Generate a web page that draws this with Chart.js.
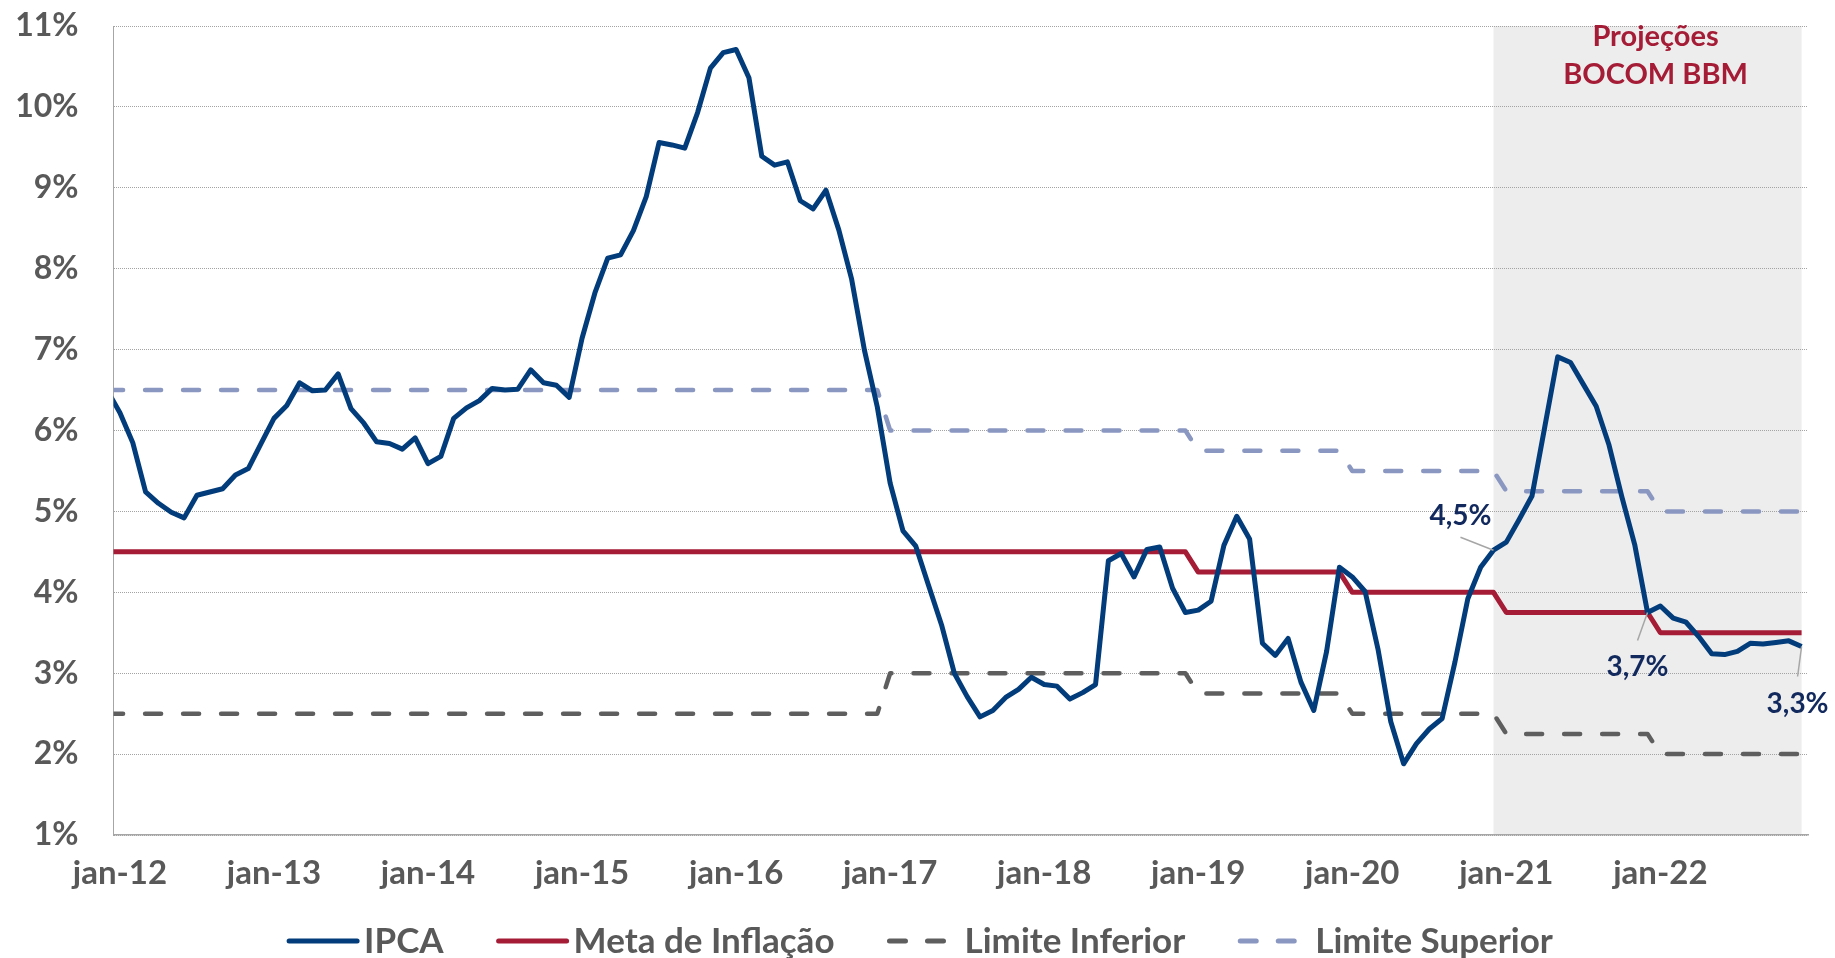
<!DOCTYPE html>
<html>
<head>
<meta charset="utf-8">
<script src="https://cdn.jsdelivr.net/npm/chart.js@4.4.1/dist/chart.umd.min.js"></script>
<style>
  html, body { margin: 0; padding: 0; background: #ffffff; }
  #wrap { width: 1835px; height: 958px; position: relative; }
  canvas { display: block; }
</style>
</head>
<body>
<div id="wrap"><canvas id="c" width="1835" height="958"></canvas></div>
<script>
// ---------------- DATA ----------------
const categories = [
  'dez-11',
  'jan-12','fev-12','mar-12','abr-12','mai-12','jun-12','jul-12','ago-12','set-12','out-12','nov-12','dez-12',
  'jan-13','fev-13','mar-13','abr-13','mai-13','jun-13','jul-13','ago-13','set-13','out-13','nov-13','dez-13',
  'jan-14','fev-14','mar-14','abr-14','mai-14','jun-14','jul-14','ago-14','set-14','out-14','nov-14','dez-14',
  'jan-15','fev-15','mar-15','abr-15','mai-15','jun-15','jul-15','ago-15','set-15','out-15','nov-15','dez-15',
  'jan-16','fev-16','mar-16','abr-16','mai-16','jun-16','jul-16','ago-16','set-16','out-16','nov-16','dez-16',
  'jan-17','fev-17','mar-17','abr-17','mai-17','jun-17','jul-17','ago-17','set-17','out-17','nov-17','dez-17',
  'jan-18','fev-18','mar-18','abr-18','mai-18','jun-18','jul-18','ago-18','set-18','out-18','nov-18','dez-18',
  'jan-19','fev-19','mar-19','abr-19','mai-19','jun-19','jul-19','ago-19','set-19','out-19','nov-19','dez-19',
  'jan-20','fev-20','mar-20','abr-20','mai-20','jun-20','jul-20','ago-20','set-20','out-20','nov-20','dez-20',
  'jan-21','fev-21','mar-21','abr-21','mai-21','jun-21','jul-21','ago-21','set-21','out-21','nov-21','dez-21',
  'jan-22','fev-22','mar-22','abr-22','mai-22','jun-22','jul-22','ago-22','set-22','out-22','nov-22','dez-22'
];

const ipca = [
  6.50,
  6.22, 5.85, 5.24, 5.10, 4.99, 4.92, 5.20, 5.24, 5.28, 5.45, 5.53, 5.84,
  6.15, 6.31, 6.59, 6.49, 6.50, 6.70, 6.27, 6.09, 5.86, 5.84, 5.77, 5.91,
  5.59, 5.68, 6.15, 6.28, 6.37, 6.52, 6.50, 6.51, 6.75, 6.59, 6.56, 6.41,
  7.14, 7.70, 8.13, 8.17, 8.47, 8.89, 9.56, 9.53, 9.49, 9.93, 10.48, 10.67,
  10.71, 10.36, 9.39, 9.28, 9.32, 8.84, 8.74, 8.97, 8.48, 7.87, 6.99, 6.29,
  5.35, 4.76, 4.57, 4.08, 3.60, 3.00, 2.71, 2.46, 2.54, 2.70, 2.80, 2.95,
  2.86, 2.84, 2.68, 2.76, 2.86, 4.39, 4.48, 4.19, 4.53, 4.56, 4.05, 3.75,
  3.78, 3.89, 4.58, 4.94, 4.66, 3.37, 3.22, 3.43, 2.89, 2.54, 3.27, 4.31,
  4.19, 4.01, 3.30, 2.40, 1.88, 2.13, 2.31, 2.44, 3.14, 3.92, 4.31, 4.52,
  4.62, 4.90, 5.19, 6.05, 6.91, 6.84, 6.57, 6.30, 5.82, 5.18, 4.59, 3.75,
  3.83, 3.68, 3.63, 3.45, 3.24, 3.23, 3.27, 3.37, 3.36, 3.38, 3.40, 3.33
];

const meta = [
  4.5,
  4.5, 4.5, 4.5, 4.5, 4.5, 4.5, 4.5, 4.5, 4.5, 4.5, 4.5, 4.5,
  4.5, 4.5, 4.5, 4.5, 4.5, 4.5, 4.5, 4.5, 4.5, 4.5, 4.5, 4.5,
  4.5, 4.5, 4.5, 4.5, 4.5, 4.5, 4.5, 4.5, 4.5, 4.5, 4.5, 4.5,
  4.5, 4.5, 4.5, 4.5, 4.5, 4.5, 4.5, 4.5, 4.5, 4.5, 4.5, 4.5,
  4.5, 4.5, 4.5, 4.5, 4.5, 4.5, 4.5, 4.5, 4.5, 4.5, 4.5, 4.5,
  4.5, 4.5, 4.5, 4.5, 4.5, 4.5, 4.5, 4.5, 4.5, 4.5, 4.5, 4.5,
  4.5, 4.5, 4.5, 4.5, 4.5, 4.5, 4.5, 4.5, 4.5, 4.5, 4.5, 4.5,
  4.25, 4.25, 4.25, 4.25, 4.25, 4.25, 4.25, 4.25, 4.25, 4.25, 4.25, 4.25,
  4.0, 4.0, 4.0, 4.0, 4.0, 4.0, 4.0, 4.0, 4.0, 4.0, 4.0, 4.0,
  3.75, 3.75, 3.75, 3.75, 3.75, 3.75, 3.75, 3.75, 3.75, 3.75, 3.75, 3.75,
  3.5, 3.5, 3.5, 3.5, 3.5, 3.5, 3.5, 3.5, 3.5, 3.5, 3.5, 3.5
];

const limiteInferior = [
  2.5,
  2.5, 2.5, 2.5, 2.5, 2.5, 2.5, 2.5, 2.5, 2.5, 2.5, 2.5, 2.5,
  2.5, 2.5, 2.5, 2.5, 2.5, 2.5, 2.5, 2.5, 2.5, 2.5, 2.5, 2.5,
  2.5, 2.5, 2.5, 2.5, 2.5, 2.5, 2.5, 2.5, 2.5, 2.5, 2.5, 2.5,
  2.5, 2.5, 2.5, 2.5, 2.5, 2.5, 2.5, 2.5, 2.5, 2.5, 2.5, 2.5,
  2.5, 2.5, 2.5, 2.5, 2.5, 2.5, 2.5, 2.5, 2.5, 2.5, 2.5, 2.5,
  3.0, 3.0, 3.0, 3.0, 3.0, 3.0, 3.0, 3.0, 3.0, 3.0, 3.0, 3.0,
  3.0, 3.0, 3.0, 3.0, 3.0, 3.0, 3.0, 3.0, 3.0, 3.0, 3.0, 3.0,
  2.75, 2.75, 2.75, 2.75, 2.75, 2.75, 2.75, 2.75, 2.75, 2.75, 2.75, 2.75,
  2.5, 2.5, 2.5, 2.5, 2.5, 2.5, 2.5, 2.5, 2.5, 2.5, 2.5, 2.5,
  2.25, 2.25, 2.25, 2.25, 2.25, 2.25, 2.25, 2.25, 2.25, 2.25, 2.25, 2.25,
  2.0, 2.0, 2.0, 2.0, 2.0, 2.0, 2.0, 2.0, 2.0, 2.0, 2.0, 2.0
];

const limiteSuperior = [
  6.5,
  6.5, 6.5, 6.5, 6.5, 6.5, 6.5, 6.5, 6.5, 6.5, 6.5, 6.5, 6.5,
  6.5, 6.5, 6.5, 6.5, 6.5, 6.5, 6.5, 6.5, 6.5, 6.5, 6.5, 6.5,
  6.5, 6.5, 6.5, 6.5, 6.5, 6.5, 6.5, 6.5, 6.5, 6.5, 6.5, 6.5,
  6.5, 6.5, 6.5, 6.5, 6.5, 6.5, 6.5, 6.5, 6.5, 6.5, 6.5, 6.5,
  6.5, 6.5, 6.5, 6.5, 6.5, 6.5, 6.5, 6.5, 6.5, 6.5, 6.5, 6.5,
  6.0, 6.0, 6.0, 6.0, 6.0, 6.0, 6.0, 6.0, 6.0, 6.0, 6.0, 6.0,
  6.0, 6.0, 6.0, 6.0, 6.0, 6.0, 6.0, 6.0, 6.0, 6.0, 6.0, 6.0,
  5.75, 5.75, 5.75, 5.75, 5.75, 5.75, 5.75, 5.75, 5.75, 5.75, 5.75, 5.75,
  5.5, 5.5, 5.5, 5.5, 5.5, 5.5, 5.5, 5.5, 5.5, 5.5, 5.5, 5.5,
  5.25, 5.25, 5.25, 5.25, 5.25, 5.25, 5.25, 5.25, 5.25, 5.25, 5.25, 5.25,
  5.0, 5.0, 5.0, 5.0, 5.0, 5.0, 5.0, 5.0, 5.0, 5.0, 5.0, 5.0
];

const seriesNames = ['IPCA', 'Meta de Inflação', 'Limite Inferior', 'Limite Superior'];
const firstShownCategory = 'jan-12';
const projectionStart = 'dez-20';
const projectionEnd = 'dez-22';
const projectionTitle = ['Projeções', 'BOCOM BBM'];
const calloutCategories = ['dez-20', 'dez-21', 'dez-22'];
const calloutTexts = ['4,5%', '3,7%', '3,3%'];
const yMin = 1, yMax = 11, yStep = 1;

// ---------------- STYLE ----------------
const C_IPCA = '#023c7a';
const C_META = '#a51c36';
const C_INF = '#5e5e5e';
const C_SUP = '#8a97c1';
const C_TEXT = '#595959';
const C_CALLOUT = '#12295e';
const FONT = 'Lato, "Open Sans", sans-serif';
const DASH = [16, 22];

// shaded projection area, drawn before grid
const shadePlugin = {
  id: 'shade',
  beforeDraw(chart) {
    const {ctx, chartArea: a, scales: {x}} = chart;
    const x0 = x.getPixelForValue(categories.indexOf(projectionStart));
    const x1 = x.getPixelForValue(categories.indexOf(projectionEnd));
    ctx.save();
    ctx.fillStyle = '#ededed';
    ctx.fillRect(x0, a.top, x1 - x0, a.bottom - a.top);
    ctx.restore();
  }
};

// callouts, projection title and legend
const overlayPlugin = {
  id: 'overlay',
  afterDraw(chart) {
    const {ctx, chartArea: a, scales: {x, y}} = chart;
    ctx.save();
    // projection title
    const x0 = x.getPixelForValue(categories.indexOf(projectionStart));
    const x1 = x.getPixelForValue(categories.indexOf(projectionEnd));
    const cx = (x0 + x1) / 2 + 8;
    ctx.fillStyle = C_META;
    ctx.font = 'bold 29px ' + FONT;
    ctx.textAlign = 'center';
    ctx.textBaseline = 'alphabetic';
    ctx.fillText(projectionTitle[0], cx, a.top + 19.5);
    ctx.fillText(projectionTitle[1], cx, a.top + 58);

    // callouts
    const offs = [
      {tx: -2, ty: -25, align: 'right', lx: -33, ly: -13},
      {tx: -10, ty: 63, align: 'center', lx: -10, ly: 28},
      {tx: -4, ty: 66, align: 'center', lx: -4, ly: 30}
    ];
    calloutCategories.forEach((cat, i) => {
      const idx = categories.indexOf(cat);
      const px = x.getPixelForValue(idx);
      const py = y.getPixelForValue(ipca[idx]);
      const o = offs[i];
      ctx.strokeStyle = '#a6a6a6';
      ctx.lineWidth = 1.5;
      ctx.setLineDash([]);
      ctx.beginPath();
      ctx.moveTo(px + o.lx, py + o.ly);
      ctx.lineTo(px, py);
      ctx.stroke();
      ctx.fillStyle = C_CALLOUT;
      ctx.font = 'bold 28px ' + FONT;
      ctx.textAlign = o.align;
      ctx.fillText(calloutTexts[i], px + o.tx, py + o.ty);
    });

    // legend
    const ds = chart.data.datasets;
    ctx.font = 'bold 35px ' + FONT;
    ctx.textAlign = 'left';
    const lineLen = 72, gapLT = 5, gapItem = 53;
    const widths = ds.map(d => ctx.measureText(d.label).width);
    const total = widths.reduce((s, w) => s + w + lineLen + gapLT, 0) + gapItem * (ds.length - 1);
    let lx = 920 - total / 2;
    const ly = 941;
    ds.forEach((d, i) => {
      ctx.strokeStyle = d.borderColor;
      ctx.lineWidth = 5;
      ctx.lineCap = 'round';
      ctx.setLineDash(d.borderDash || []);
      ctx.beginPath();
      if (d.borderDash && d.borderDash.length) {
        ctx.moveTo(lx + 2, ly); ctx.lineTo(lx + lineLen, ly);
      } else {
        ctx.moveTo(lx + 2, ly); ctx.lineTo(lx + lineLen - 2, ly);
      }
      ctx.stroke();
      ctx.setLineDash([]);
      ctx.fillStyle = C_TEXT;
      ctx.fillText(d.label, lx + lineLen + gapLT, 953);
      lx += lineLen + gapLT + widths[i] + gapItem;
    });
    ctx.restore();
  }
};

function draw() {
  const ctx = document.getElementById('c').getContext('2d');
  const common = {pointRadius: 0, pointHoverRadius: 0, tension: 0, fill: false, clip: 0, borderJoinStyle: 'round'};
  new Chart(ctx, {
    type: 'line',
    data: {
      labels: categories,
      datasets: [
        Object.assign({label: seriesNames[0], data: ipca, borderColor: C_IPCA, borderWidth: 5, order: 0}, common),
        Object.assign({label: seriesNames[1], data: meta, borderColor: C_META, borderWidth: 5, order: 1}, common),
        Object.assign({label: seriesNames[2], data: limiteInferior, borderColor: C_INF, borderWidth: 4.5, borderDash: DASH, borderCapStyle: 'round', order: 2}, common),
        Object.assign({label: seriesNames[3], data: limiteSuperior, borderColor: C_SUP, borderWidth: 4.5, borderDash: DASH, borderCapStyle: 'round', order: 3}, common)
      ]
    },
    options: {
      responsive: false,
      animation: false,
      events: [],
      layout: {padding: {top: 26, right: 27, bottom: 53, left: 0}},
      plugins: {legend: {display: false}, tooltip: {enabled: false}},
      scales: {
        x: {
          type: 'category',
          min: firstShownCategory,
          offset: true,
          grid: {display: false, drawTicks: false},
          border: {display: true, color: '#a6a6a6', width: 1.5},
          ticks: {
            autoSkip: false, maxRotation: 0, minRotation: 0, padding: 19,
            color: C_TEXT, font: {family: FONT, weight: 'bold', size: 33},
            callback: function (v) { const l = this.getLabelForValue(v); return l.startsWith('jan') ? l : ''; }
          },
          afterFit: s => { s.height = 70; s.paddingLeft = 0; s.paddingRight = 0; }
        },
        y: {
          min: yMin, max: yMax,
          grid: {color: '#a3a3a3', lineWidth: 1, drawTicks: false},
          border: {display: true, color: '#a6a6a6', width: 1, dash: [1, 1]},
          ticks: {
            stepSize: yStep, padding: 35, color: C_TEXT,
            font: {family: FONT, weight: 'bold', size: 32},
            callback: v => v + '%'
          },
          afterFit: s => { s.width = 113.5; s.paddingTop = 0; s.paddingBottom = 0; }
        }
      }
    },
    plugins: [shadePlugin, overlayPlugin]
  });
}

if (document.fonts && document.fonts.load) {
  Promise.all([
    document.fonts.load('bold 32px Lato'),
    document.fonts.load('bold 27px Lato')
  ]).then(draw, draw);
} else {
  draw();
}
</script>
</body>
</html>
